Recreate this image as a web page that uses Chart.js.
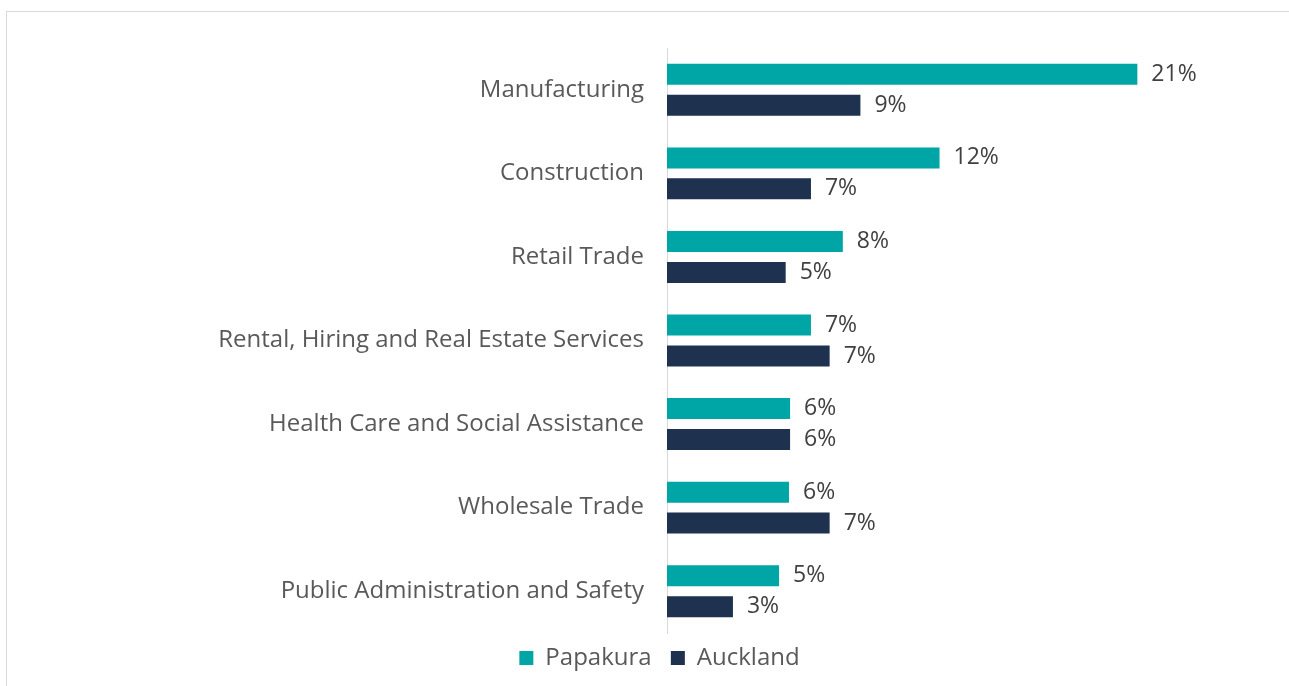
<!DOCTYPE html>
<html>
<head>
<meta charset="utf-8">
<script src="https://cdn.jsdelivr.net/npm/chart.js@4"></script>
<style>
  body { margin: 0; background: #fff; }
  #frame { position: absolute; left: 6px; top: 11px; width: 1400px; height: 800px; border: 1px solid #d9d9d9; }
  #graficoIndustrias { position: absolute; left: 0; top: 0; }
</style>
</head>
<body>
<div id="frame"></div>
<canvas id="graficoIndustrias" width="1289" height="686"></canvas>
<script>
const industrias = [
    'Manufacturing',
    'Construction',
    'Retail Trade',
    'Rental, Hiring and Real Estate Services',
    'Health Care and Social Assistance',
    'Wholesale Trade',
    'Public Administration and Safety'
];
const papakura = [21.4, 12.4, 8.0, 6.55, 5.6, 5.55, 5.1];
const auckland = [8.8, 6.55, 5.4, 7.4, 5.6, 7.4, 3.0];

const fontFamily = '"Open Sans", Roboto, sans-serif';

// etiquetas de porcentaje al final de cada barra
const etiquetas = {
    id: 'etiquetas',
    afterDatasetsDraw(chart) {
        const ctx = chart.ctx;
        ctx.save();
        ctx.font = '23px ' + fontFamily;
        ctx.fillStyle = '#404040';
        ctx.textAlign = 'left';
        ctx.textBaseline = 'middle';
        chart.data.datasets.forEach((ds, i) => {
            chart.getDatasetMeta(i).data.forEach((bar, j) => {
                ctx.fillText(Math.round(ds.data[j]) + '%', bar.x + 14, bar.y);
            });
        });
        ctx.restore();
    }
};

const ctx = document.getElementById('graficoIndustrias').getContext('2d');
new Chart(ctx, {
    type: 'bar',
    data: {
        labels: industrias,
        datasets: [{
            label: 'Papakura',
            data: papakura,
            backgroundColor: '#00A6A6',
            categoryPercentage: 0.74,
            barPercentage: 0.68
        }, {
            label: 'Auckland',
            data: auckland,
            backgroundColor: '#1E314F',
            categoryPercentage: 0.74,
            barPercentage: 0.68
        }]
    },
    options: {
        indexAxis: 'y',
        responsive: false,
        animation: false,
        layout: { padding: { top: 48, right: 0, left: 30, bottom: 6 } },
        plugins: {
            legend: {
                position: 'bottom',
                labels: {
                    boxWidth: 14,
                    boxHeight: 14,
                    padding: 13,
                    color: '#595959',
                    font: { family: fontFamily, size: 24 },
                    generateLabels(chart) {
                        const items = Chart.defaults.plugins.legend.labels.generateLabels(chart);
                        items[0].text += ' ';
                        return items;
                    }
                }
            },
            tooltip: { enabled: false }
        },
        scales: {
            x: {
                display: false,
                min: 0,
                max: 28.3
            },
            y: {
                grid: { display: false, drawTicks: false },
                border: { color: '#d9d9d9', width: 1 },
                ticks: {
                    color: '#595959',
                    padding: 23,
                    font: { family: fontFamily, size: 24 }
                },
                afterFit(scale) { scale.width = 637; }
            }
        }
    },
    plugins: [etiquetas]
});
</script>
</body>
</html>
